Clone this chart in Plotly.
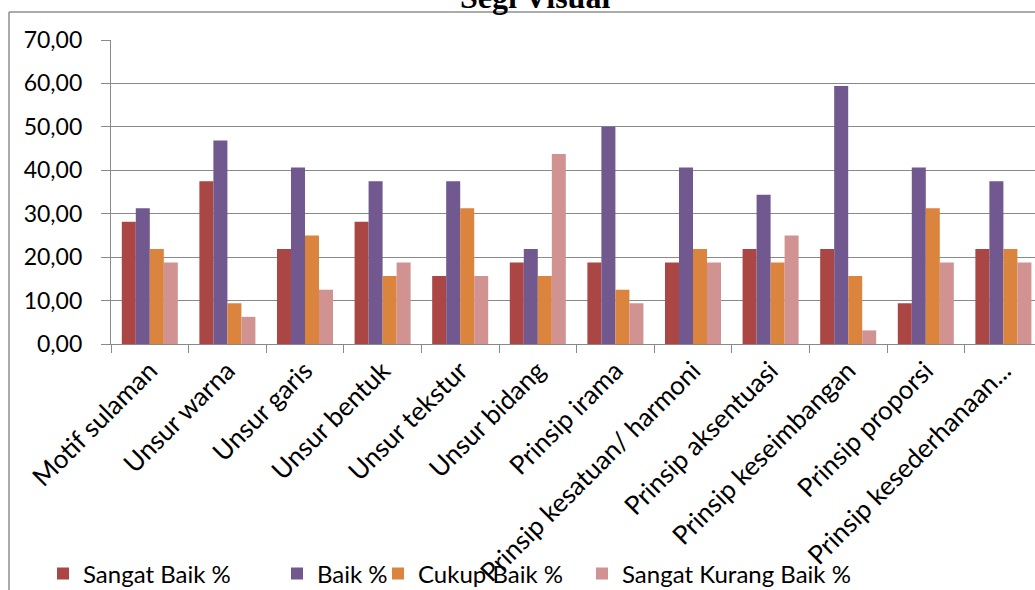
import plotly.graph_objects as go

categories = ["Motif sulaman", "Unsur warna", "Unsur garis", "Unsur bentuk", "Unsur tekstur",
              "Unsur bidang", "Prinsip irama", "Prinsip kesatuan/ harmoni", "Prinsip aksentuasi",
              "Prinsip keseimbangan", "Prinsip proporsi", "Prinsip kesederhanaan..."]
sangat_baik = [28.13, 37.50, 21.88, 28.13, 15.63, 18.75, 18.75, 18.75, 21.88, 21.88, 9.38, 21.88]
baik = [31.25, 46.88, 40.63, 37.50, 37.50, 21.88, 50.00, 40.63, 34.38, 59.38, 40.63, 37.50]
cukup_baik = [21.88, 9.38, 25.00, 15.63, 31.25, 15.63, 12.50, 21.88, 18.75, 15.63, 31.25, 21.88]
sangat_kurang_baik = [18.75, 6.25, 12.50, 18.75, 15.63, 43.75, 9.38, 18.75, 25.00, 3.13, 18.75, 18.75]
series_names = ["Sangat Baik %", "Baik %", "Cukup Baik %", "Sangat Kurang Baik %"]
colors = ["#AA4643", "#71588F", "#DB843D", "#D19392"]
y_ticks = [0, 10, 20, 30, 40, 50, 60, 70]
y_tick_text = ["0,00", "10,00", "20,00", "30,00", "40,00", "50,00", "60,00", "70,00"]

FONT = "Lato, Roboto, sans-serif"
GRID = "#898989"

# plot area geometry (pixels)
L, T, W, H = 111, 40, 1035, 590
B = 344
plot_w = W - L
plot_h = B - T

def px_x(p):
    return (p - L) / plot_w

def px_y(p):
    return (B - p) / plot_h

legend_ids = ["legend", "legend2", "legend3", "legend4"]
legend_marker_px = [58, 292, 393, 597]

fig = go.Figure()
for name, vals, col, lid in zip(series_names, [sangat_baik, baik, cukup_baik, sangat_kurang_baik],
                                colors, legend_ids):
    fig.add_trace(go.Bar(x=categories, y=vals, name=name, legend=lid,
                         marker=dict(color=col, line=dict(width=0))))

cat_w = 77.6
x_hi = -0.5 + plot_w / cat_w

legend_layouts = {}
for lid, mx in zip(legend_ids, legend_marker_px):
    legend_layouts[lid] = dict(orientation="h", xref="container", yref="container",
                               x=(mx - 15) / W, y=(H - 574) / H, xanchor="left", yanchor="middle",
                               font=dict(size=24, family=FONT), itemwidth=30,
                               bgcolor="rgba(0,0,0,0)")

fig.update_layout(
    width=W, height=H,
    margin=dict(l=L, r=0, t=T, b=H - B, pad=0),
    paper_bgcolor="white", plot_bgcolor="white",
    barmode="group", bargap=0.278, bargroupgap=0,
    font=dict(family=FONT, color="#000000", size=24),
    showlegend=True,
    xaxis=dict(range=[-0.5, x_hi], showgrid=False, showline=True, linecolor=GRID, linewidth=1.3,
               ticks="outside", ticklen=8, tickcolor=GRID, tickwidth=1.3, tickson="boundaries",
               tickangle=-45, tickfont=dict(size=26, family=FONT), automargin=False),
    yaxis=dict(range=[0, 70], tickvals=y_ticks, ticktext=y_tick_text, showgrid=True,
               gridcolor=GRID, gridwidth=1.3, showline=True, linecolor=GRID, linewidth=1.3,
               ticks="outside", ticklen=9, tickcolor=GRID, tickwidth=1.3,
               ticklabelstandoff=14, tickfont=dict(size=23, family=FONT), zeroline=False,
               automargin=False),
    annotations=[dict(text="<b>Segi Visual</b>", xref="paper", yref="paper",
                      x=px_x(535), y=px_y(17), xanchor="center", yanchor="bottom",
                      showarrow=False, font=dict(family="Liberation Serif, Times New Roman, serif",
                                                  size=32, color="#000000"))],
    shapes=[
        dict(type="line", xref="paper", yref="paper", x0=px_x(9), x1=px_x(9),
             y0=px_y(12), y1=px_y(600), line=dict(color="#8f8f8f", width=1.5)),
        dict(type="line", xref="paper", yref="paper", x0=px_x(9), x1=px_x(1100),
             y0=px_y(12), y1=px_y(12), line=dict(color="#8f8f8f", width=1.5)),
    ],
    **legend_layouts,
)

fig.write_html("out.html")
